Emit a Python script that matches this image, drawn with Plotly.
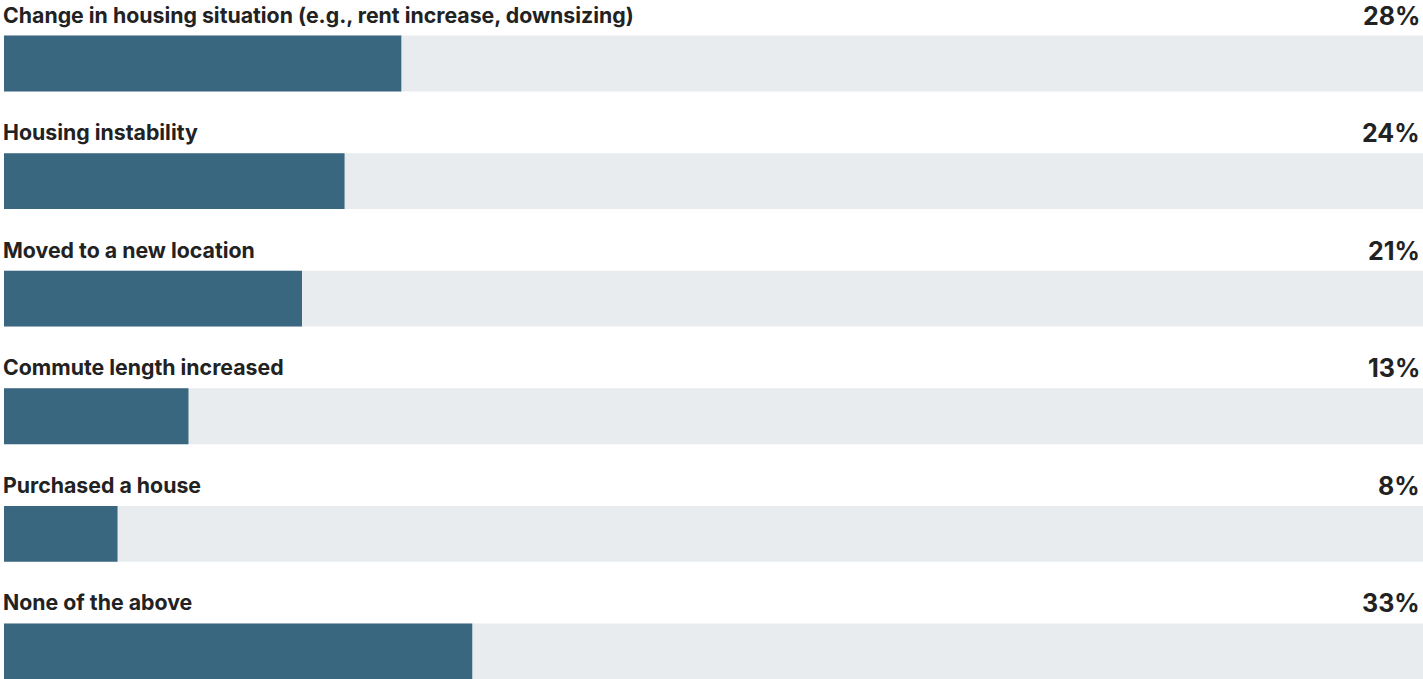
import plotly.graph_objects as go

categories = [
    "Change in housing situation (e.g., rent increase, downsizing)",
    "Housing instability",
    "Moved to a new location",
    "Commute length increased",
    "Purchased a house",
    "None of the above",
]
values = [28, 24, 21, 13, 8, 33]
value_labels = ["28%", "24%", "21%", "13%", "8%", "33%"]
track_max = 100

BAR = "#3a6780"
TRACK = "#e9ecef"
TEXT = "#222222"
FONT = "Inter"

pos = list(range(len(categories)))

fig = go.Figure()
fig.add_trace(go.Bar(
    y=pos, x=[track_max] * len(pos), orientation="h",
    marker=dict(color=TRACK, line=dict(width=0)), width=0.475,
    hoverinfo="skip", showlegend=False,
))
fig.add_trace(go.Bar(
    y=pos, x=values, orientation="h",
    marker=dict(color=BAR, line=dict(width=0)), width=0.475,
    hovertemplate="%{x}%<extra></extra>", showlegend=False,
))

for i, (cat, lab) in enumerate(zip(categories, value_labels)):
    fig.add_annotation(
        x=0, y=i, xref="x", yref="y", text=cat, showarrow=False,
        xanchor="left", yanchor="middle", yshift=49, xshift=-3,
        font=dict(family=FONT, size=21.3, color=TEXT, weight=700),
    )
    fig.add_annotation(
        x=track_max, y=i, xref="x", yref="y", text=lab, showarrow=False,
        xanchor="right", yanchor="middle", yshift=48, xshift=-1,
        font=dict(family=FONT, size=25, color=TEXT, weight=700),
    )

fig.update_layout(
    width=1423, height=679,
    margin=dict(l=4, r=0, t=0, b=0),
    barmode="overlay",
    paper_bgcolor="white", plot_bgcolor="white",
    xaxis=dict(range=[0, track_max], visible=False, fixedrange=True),
    yaxis=dict(range=[5.234, -0.54], visible=False, fixedrange=True),
)

fig.write_html("out.html", include_plotlyjs=True, config={"displayModeBar": False})
